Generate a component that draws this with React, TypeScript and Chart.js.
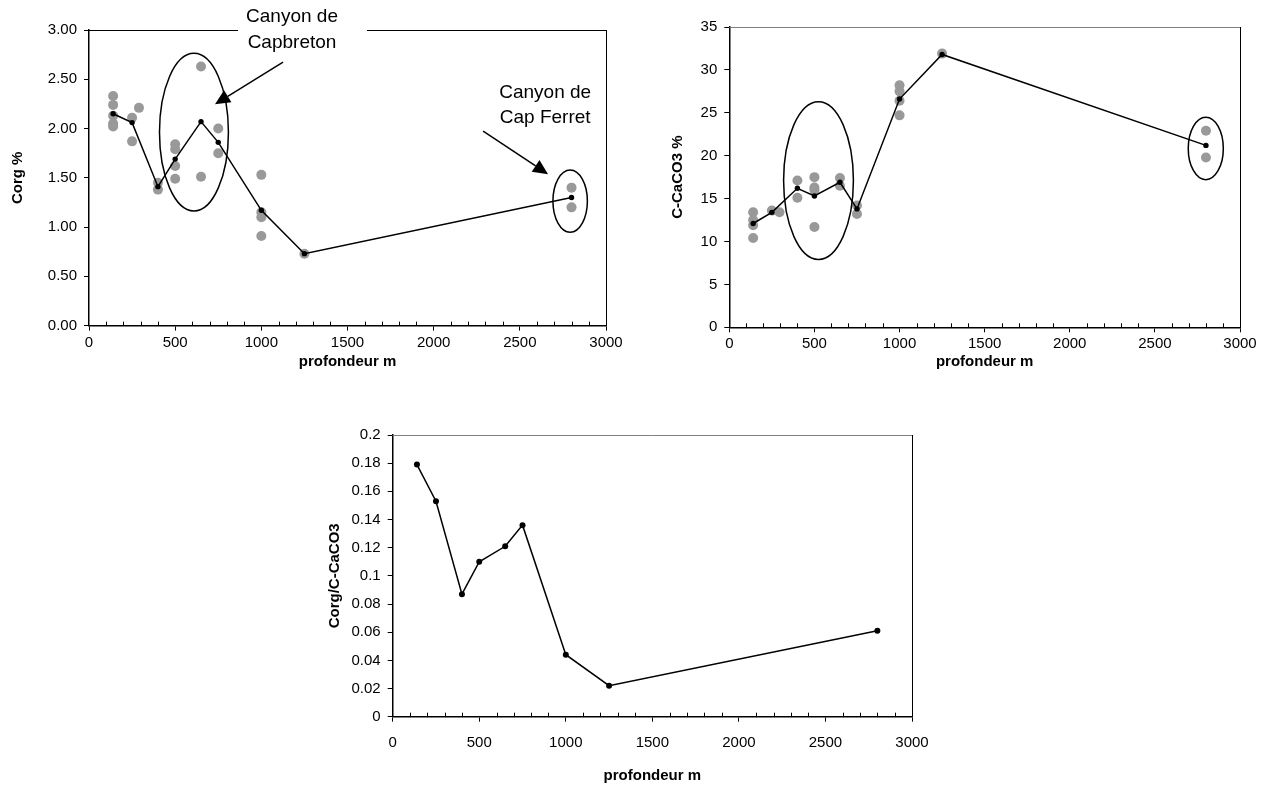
import React, { useEffect, useRef } from "react";
import { Chart, registerables } from "chart.js";
Chart.register(...registerables);

const FONT = '"Liberation Sans", Arial, sans-serif';

// ---------- Data ----------
const depthTicks = [0, 500, 1000, 1500, 2000, 2500, 3000];

// Chart 1 : Corg %
const corgMeanDepth = [140, 250, 400, 500, 650, 750, 1000, 1250, 2800];
const corgMean = [2.15, 2.06, 1.41, 1.69, 2.07, 1.86, 1.17, 0.73, 1.3];
const corgSampleDepth = [140, 140, 140, 140, 140, 250, 250, 290, 400, 400, 500, 500, 500, 500, 650, 650, 750, 750, 1000, 1000, 1000, 1000, 1250, 2800, 2800];
const corgSample = [2.33, 2.24, 2.13, 2.05, 2.02, 2.11, 1.87, 2.21, 1.45, 1.38, 1.84, 1.79, 1.62, 1.49, 2.63, 1.51, 2.0, 1.75, 1.53, 1.15, 1.1, 0.91, 0.73, 1.4, 1.2];

// Chart 2 : C-CaCO3 %
const caco3MeanDepth = [140, 250, 400, 500, 650, 750, 1000, 1250, 2800];
const caco3Mean = [12.1, 13.4, 16.2, 15.3, 16.9, 13.8, 26.6, 31.8, 21.2];
const caco3SampleDepth = [140, 140, 140, 140, 250, 295, 400, 400, 500, 500, 500, 500, 650, 650, 750, 750, 1000, 1000, 1000, 1000, 1250, 2800, 2800];
const caco3Sample = [13.4, 12.5, 11.9, 10.4, 13.6, 13.4, 17.1, 15.1, 17.5, 16.3, 16.0, 11.7, 17.4, 16.5, 14.2, 13.2, 28.2, 27.5, 26.4, 24.7, 31.9, 22.9, 19.8];

// Chart 3 : Corg / C-CaCO3
const ratioDepth = [140, 250, 400, 500, 650, 750, 1000, 1250, 2800];
const ratio = [0.179, 0.153, 0.087, 0.11, 0.121, 0.136, 0.044, 0.022, 0.061];

// Annotations (data units): ellipses [cx, cy, rx, ry], arrows [x1, y1, x2, y2]
const corgEllipses = [
  [609, 1.963, 200, 0.8],
  [2792, 1.264, 100, 0.316],
];
const corgArrows = [
  [1126, 2.673, 731, 2.247],
  [2287, 1.974, 2664, 1.537],
];
const corgLabels = [
  { x: 1178, y: [3.131, 2.866], lines: ["Canyon de", "Capbreton"], box: [865, 1613] },
  { x: 2647, y: [2.368, 2.114], lines: ["Canyon de", "Cap Ferret"], box: null },
];
const caco3Ellipses = [
  [524, 17.1, 205, 9.19],
  [2799, 20.85, 103, 3.64],
];

// ---------- Helpers ----------
const pts = (xs: number[], ys: number[]) => xs.map((x, i) => ({ x, y: ys[i] }));

type Deco = {
  topColor: string;
  ellipses?: number[][];
  arrows?: number[][];
  labels?: { x: number; y: number[]; lines: string[]; box: number[] | null }[];
};

function decoPlugin(d: Deco) {
  return {
    id: "deco",
    afterDraw(chart: any) {
      const { ctx, chartArea: a, scales } = chart;
      const x = scales.x;
      const y = scales.y;
      ctx.save();
      ctx.lineWidth = 1;
      // minor ticks (every 100 m, inside)
      ctx.strokeStyle = "#000";
      ctx.beginPath();
      for (let v = 100; v < 3000; v += 100) {
        if (v % 500 === 0) continue;
        const px = Math.round(x.getPixelForValue(v)) + 0.5;
        ctx.moveTo(px, a.bottom);
        ctx.lineTo(px, a.bottom - 4);
      }
      ctx.stroke();
      // right border
      ctx.beginPath();
      const rx = Math.round(a.right) + 0.5;
      ctx.moveTo(rx, a.top);
      ctx.lineTo(rx, a.bottom);
      ctx.stroke();
      // top border
      ctx.strokeStyle = d.topColor;
      ctx.beginPath();
      const ty = Math.round(a.top) + 0.5;
      ctx.moveTo(a.left, ty);
      ctx.lineTo(a.right, ty);
      ctx.stroke();

      // ellipses
      ctx.strokeStyle = "#000";
      ctx.lineWidth = 1.5;
      (d.ellipses || []).forEach(([cx, cy, erx, ery]) => {
        const px = x.getPixelForValue(cx);
        const py = y.getPixelForValue(cy);
        const rpx = Math.abs(x.getPixelForValue(cx + erx) - px);
        const rpy = Math.abs(y.getPixelForValue(cy + ery) - py);
        ctx.beginPath();
        ctx.ellipse(px, py, rpx, rpy, 0, 0, Math.PI * 2);
        ctx.stroke();
      });

      // arrows
      (d.arrows || []).forEach(([x1, y1, x2, y2]) => {
        const p1x = x.getPixelForValue(x1);
        const p1y = y.getPixelForValue(y1);
        const p2x = x.getPixelForValue(x2);
        const p2y = y.getPixelForValue(y2);
        const ang = Math.atan2(p2y - p1y, p2x - p1x);
        const hl = 15;
        const hw = 7;
        const bx = p2x - hl * Math.cos(ang);
        const by = p2y - hl * Math.sin(ang);
        ctx.lineWidth = 1.5;
        ctx.beginPath();
        ctx.moveTo(p1x, p1y);
        ctx.lineTo(bx, by);
        ctx.stroke();
        ctx.fillStyle = "#000";
        ctx.beginPath();
        ctx.moveTo(p2x, p2y);
        ctx.lineTo(bx + hw * Math.sin(ang), by - hw * Math.cos(ang));
        ctx.lineTo(bx - hw * Math.sin(ang), by + hw * Math.cos(ang));
        ctx.closePath();
        ctx.fill();
      });

      // labels
      (d.labels || []).forEach((l) => {
        const cx = x.getPixelForValue(l.x);
        if (l.box) {
          const b0 = x.getPixelForValue(l.box[0]);
          const b1 = x.getPixelForValue(l.box[1]);
          const yTop = y.getPixelForValue(l.y[0]) - 14;
          const yBot = y.getPixelForValue(l.y[l.y.length - 1]) + 14;
          ctx.fillStyle = "#fff";
          ctx.fillRect(b0, yTop, b1 - b0, yBot - yTop);
        }
        ctx.fillStyle = "#000";
        ctx.font = `19px ${FONT}`;
        ctx.textAlign = "center";
        ctx.textBaseline = "middle";
        l.lines.forEach((t, i) => ctx.fillText(t, cx, y.getPixelForValue(l.y[i])));
      });
      ctx.restore();
    },
  };
}

type Cfg = {
  yTitle: string;
  yMin: number;
  yMax: number;
  yStep: number;
  yFmt: (v: number) => string;
  pad: { left: number; right: number; top: number; bottom: number };
  yAxisWidth: number;
  xAxisHeight: number;
  yTitlePad: number;
  xTitlePad: number;
  xTickPad: number;
};

function makeOptions(c: Cfg) {
  const tickFont = { family: FONT, size: 15 };
  const titleFont = { family: FONT, size: 15, weight: "bold" as const };
  return {
    animation: false,
    responsive: false,
    maintainAspectRatio: false,
    layout: { padding: c.pad },
    plugins: { legend: { display: false }, tooltip: { enabled: false } },
    scales: {
      x: {
        type: "linear",
        min: 0,
        max: 3000,
        afterBuildTicks: (s: any) => {
          s.ticks = depthTicks.map((v) => ({ value: v }));
        },
        ticks: {
          font: tickFont,
          color: "#000",
          padding: c.xTickPad,
          maxRotation: 0,
          autoSkip: false,
          callback: (v: any) => String(v),
        },
        grid: { drawOnChartArea: false, drawTicks: true, tickLength: 5, tickColor: "#000", lineWidth: 1 },
        border: { display: true, color: "#000", width: 1.5 },
        title: { display: true, text: "profondeur m", font: titleFont, color: "#000", padding: { top: 0, bottom: c.xTitlePad } },
        afterFit: (s: any) => {
          s.height = c.xAxisHeight;
        },
      },
      y: {
        type: "linear",
        min: c.yMin,
        max: c.yMax,
        ticks: { stepSize: c.yStep, font: tickFont, color: "#000", padding: 7, callback: (v: any) => c.yFmt(Number(v)) },
        grid: { drawOnChartArea: false, drawTicks: true, tickLength: 5, tickColor: "#000", lineWidth: 1 },
        border: { display: true, color: "#000", width: 1.5 },
        title: { display: true, text: c.yTitle, font: titleFont, color: "#000", padding: { top: c.yTitlePad, bottom: 0 } },
        afterFit: (s: any) => {
          s.width = c.yAxisWidth;
        },
      },
    },
  };
}

function ChartBox(props: { left: number; top: number; width: number; height: number; build: () => any }) {
  const ref = useRef<HTMLCanvasElement | null>(null);
  useEffect(() => {
    if (!ref.current) return;
    const chart = new Chart(ref.current, props.build());
    return () => chart.destroy();
  }, []);
  return (
    <canvas
      ref={ref}
      width={props.width}
      height={props.height}
      style={{ position: "absolute", left: props.left, top: props.top, width: props.width, height: props.height }}
    />
  );
}

const meanDs = (xs: number[], ys: number[], r: number) => ({
  data: pts(xs, ys),
  showLine: true,
  borderColor: "#000",
  borderWidth: 1.5,
  pointRadius: r,
  pointBackgroundColor: "#000",
  pointBorderWidth: 0,
});
const sampleDs = (xs: number[], ys: number[]) => ({
  data: pts(xs, ys),
  showLine: false,
  pointRadius: 5,
  pointBackgroundColor: "#999999",
  pointBorderWidth: 0,
});

export default function App() {
  return (
    <div style={{ position: "absolute", left: 0, top: 0, width: 1276, height: 787, background: "#fff" }}>
      <ChartBox
        left={0}
        top={0}
        width={640}
        height={380}
        build={() => ({
          type: "scatter",
          data: { datasets: [meanDs(corgMeanDepth, corgMean, 2.7), sampleDs(corgSampleDepth, corgSample)] },
          options: makeOptions({
            yTitle: "Corg %",
            yMin: 0,
            yMax: 3,
            yStep: 0.5,
            yFmt: (v) => v.toFixed(2),
            pad: { left: 0, right: 34, top: 30, bottom: 0 },
            yAxisWidth: 89,
            xAxisHeight: 54.4,
            yTitlePad: 9,
            xTitlePad: 9,
            xTickPad: 3,
          }),
          plugins: [decoPlugin({ topColor: "#000", ellipses: corgEllipses, arrows: corgArrows, labels: corgLabels })],
        })}
      />
      <ChartBox
        left={640}
        top={0}
        width={636}
        height={380}
        build={() => ({
          type: "scatter",
          data: { datasets: [meanDs(caco3MeanDepth, caco3Mean, 2.7), sampleDs(caco3SampleDepth, caco3Sample)] },
          options: makeOptions({
            yTitle: "C-CaCO3 %",
            yMin: 0,
            yMax: 35,
            yStep: 5,
            yFmt: (v) => String(v),
            pad: { left: 0, right: 36, top: 27, bottom: 0 },
            yAxisWidth: 89.3,
            xAxisHeight: 52.7,
            yTitlePad: 29,
            xTitlePad: 9,
            xTickPad: 3,
          }),
          plugins: [decoPlugin({ topColor: "#808080", ellipses: caco3Ellipses })],
        })}
      />
      <ChartBox
        left={300}
        top={400}
        width={660}
        height={387}
        build={() => ({
          type: "scatter",
          data: { datasets: [meanDs(ratioDepth, ratio, 3)] },
          options: makeOptions({
            yTitle: "Corg/C-CaCO3",
            yMin: 0,
            yMax: 0.2,
            yStep: 0.02,
            yFmt: (v) => String(Math.round(v * 100) / 100),
            pad: { left: 0, right: 48, top: 35, bottom: 0 },
            yAxisWidth: 92.7,
            xAxisHeight: 70.3,
            yTitlePad: 26,
            xTitlePad: 2,
            xTickPad: 12,
          }),
          plugins: [decoPlugin({ topColor: "#808080" })],
        })}
      />
    </div>
  );
}
